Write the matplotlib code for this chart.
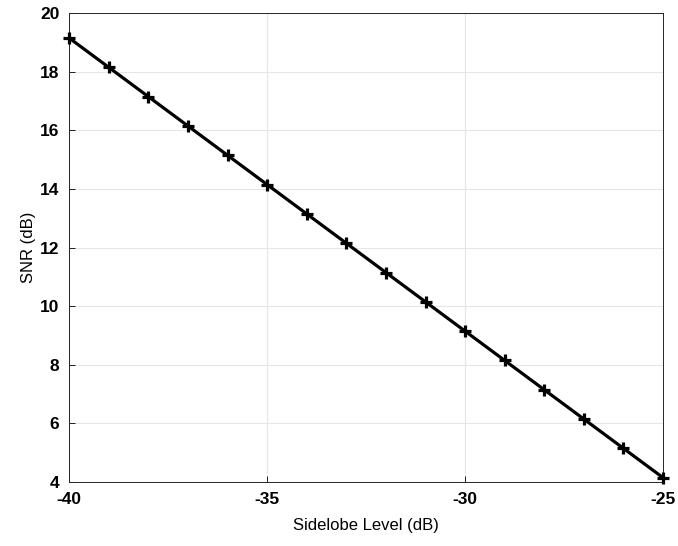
import numpy as np
import matplotlib
matplotlib.use("Agg")
import matplotlib.pyplot as plt

plt.rcParams["font.family"] = ["Liberation Sans", "DejaVu Sans"]
plt.rcParams["axes.unicode_minus"] = False

# sidelobe level vs required SNR
sidelobe_db = [-40, -39, -38, -37, -36, -35, -34, -33, -32, -31, -30, -29, -28, -27, -26, -25]
snr_db = [19.15, 18.15, 17.15, 16.15, 15.15, 14.15, 13.15, 12.15, 11.15, 10.15,
          9.15, 8.15, 7.15, 6.15, 5.15, 4.15]
x_ticks = [-40, -35, -30, -25]
y_ticks = [4, 6, 8, 10, 12, 14, 16, 18, 20]

fig = plt.figure(figsize=(6.78, 5.46), dpi=100)
ax = fig.add_axes([0.102, 0.117, 0.876, 0.859])

ax.plot(sidelobe_db, snr_db, color="black", linewidth=2.3, marker="+",
        markersize=8, markeredgewidth=2.3, clip_on=False, zorder=3)

ax.set_xlim(-40, -25)
ax.set_ylim(4, 20)
ax.set_xticks(x_ticks)
ax.set_yticks(y_ticks)
ax.grid(True, color="#e6e6e6", linewidth=0.8)
ax.set_axisbelow(True)
ax.tick_params(direction="in", length=4, width=0.6, labelsize=12.5, pad=7)
for lab in ax.get_xticklabels() + ax.get_yticklabels():
    lab.set_fontweight("bold")
for sp in ax.spines.values():
    sp.set_linewidth(0.7)
    sp.set_color("#262626")

ax.set_xlabel("Sidelobe Level (dB)", fontsize=12, labelpad=8)
ax.set_ylabel("SNR (dB)", fontsize=12, labelpad=3)

fig.savefig("out.png", dpi=100)
